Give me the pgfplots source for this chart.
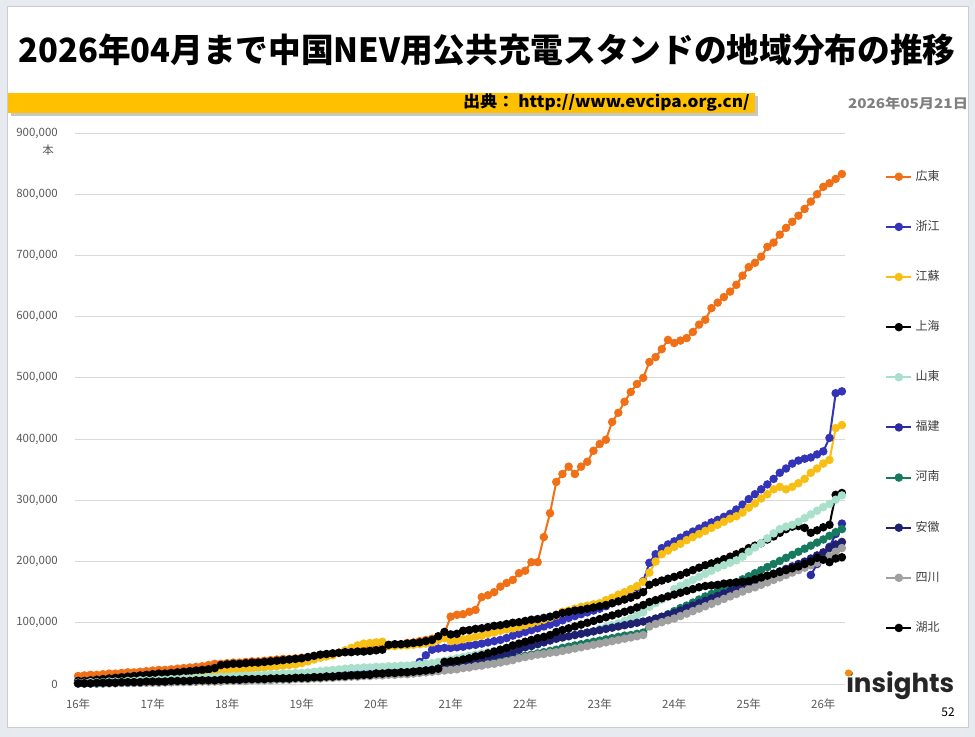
\documentclass[border=0pt]{standalone}
\usepackage{fontspec}
\usepackage{graphicx}
\usepackage{pgfplots}
\usepackage{pgfplotstable}
\pgfplotsset{compat=1.18}
\setmainfont{Noto Sans CJK JP}
\newfontfamily\logofont{Poppins}

\definecolor{pagebg}{RGB}{231,235,240}
\definecolor{panelline}{RGB}{200,205,212}
\definecolor{banner}{RGB}{255,192,0}
\definecolor{dategray}{RGB}{128,128,128}
\definecolor{tick}{RGB}{89,89,89}
\definecolor{gridgray}{RGB}{217,217,217}
\definecolor{legtext}{RGB}{64,64,64}
\definecolor{logo}{RGB}{38,38,38}
\definecolor{logoorange}{RGB}{240,140,20}
\definecolor{gd}{RGB}{240,112,24}
\definecolor{zj}{RGB}{52,52,184}
\definecolor{js}{RGB}{247,190,20}
\definecolor{sh}{RGB}{0,0,0}
\definecolor{sd}{RGB}{168,224,204}
\definecolor{fj}{RGB}{44,44,160}
\definecolor{hn}{RGB}{22,122,94}
\definecolor{ah}{RGB}{32,32,112}
\definecolor{sc}{RGB}{160,160,160}
\definecolor{hb}{RGB}{0,0,0}

% monthly public chargers, thousand units (i = months since 2016-01)
\pgfplotstableread{
i GD ZJ JS SH SD HN AH SC HB
0 13 2 3 5 2 1 1 1 1
1 14 2 3 5 2 1 1 1 1
2 15 3 4 6 3 1 1 1 1
3 15 3 4 7 3 1 1 1 2
4 16 3 5 8 3 2 1 1 2
5 17 4 5 9 4 2 2 1 2
6 17 4 6 10 4 2 2 1 2
7 18 4 6 11 4 2 2 2 3
8 19 5 7 12 5 2 2 2 3
9 19 5 7 13 5 3 2 2 3
10 20 5 8 14 6 3 2 2 3
11 21 6 8 15 6 3 3 2 4
12 22 6 9 16 6 3 3 2 4
13 23 6 10 17 7 3 3 2 4
14 23 7 11 17 7 4 3 3 4
15 24 7 12 18 8 4 3 3 5
16 25 7 13 19 8 4 4 3 5
17 26 8 14 20 9 4 4 3 5
18 27 8 15 21 9 5 4 3 5
19 28 8 16 22 10 5 4 4 6
20 29 9 17 23 10 5 5 4 6
21 31 9 18 24 11 5 5 4 6
22 33 10 19 26 11 6 5 4 6
23 33 10 20 31 12 6 5 4 7
24 34 11 21 32 12 6 6 5 7
25 35 11 22 33 13 6 6 5 7
26 35 12 23 33 13 7 6 5 7
27 36 12 24 34 14 7 7 5 8
28 37 12 25 35 14 7 7 6 8
29 37 13 26 35 15 8 7 6 8
30 38 13 27 36 15 8 8 6 8
31 39 14 28 37 16 8 8 6 9
32 40 14 29 38 16 9 8 7 9
33 41 15 30 39 17 9 9 7 9
34 41 15 31 40 17 9 9 7 9
35 42 16 32 41 18 10 9 8 10
36 43 17 34 42 18 10 10 8 10
37 44 17 37 44 19 10 10 8 10
38 45 18 40 46 20 11 11 9 11
39 47 19 43 48 21 11 11 9 11
40 48 20 45 49 22 12 12 10 12
41 50 21 47 50 23 12 12 10 12
42 51 22 51 51 24 13 13 11 13
43 52 23 55 52 25 13 14 11 13
44 54 23 59 52 26 14 14 12 14
45 55 24 63 53 26 14 15 12 14
46 57 24 66 53 27 15 15 13 15
47 59 25 67 54 27 15 16 13 15
48 60 25 68 55 28 16 17 14 17
49 61 26 69 56 28 16 17 14 17
50 63 26 62 64 29 17 18 15 18
51 64 27 62 65 29 17 18 15 18
52 65 27 63 65 30 18 19 16 19
53 67 28 63 66 30 18 19 16 19
54 68 30 64 67 31 19 20 17 20
55 70 36 65 68 32 20 21 18 21
56 72 47 66 70 33 21 22 19 22
57 74 56 68 72 34 22 23 20 23
58 77 58 72 78 36 24 25 21 25
59 83 59 75 85 38 26 30 22 36
60 110 59 70 81 40 28 32 23 37
61 113 60 71 82 42 29 34 24 38
62 114 61 73 87 44 30 36 26 40
63 118 63 75 88 46 31 38 27 42
64 121 64 77 90 48 33 40 29 45
65 142 66 79 91 50 34 42 30 47
66 145 68 82 93 52 35 44 32 50
67 150 70 84 95 54 37 46 33 53
68 159 72 87 96 56 38 48 35 56
69 165 75 89 98 58 40 50 37 59
70 170 79 91 100 60 42 52 39 63
71 181 82 93 101 62 44 56 42 66
72 185 85 96 103 64 46 60 44 69
73 199 88 99 105 66 48 62 46 72
74 199 91 102 106 68 50 65 48 75
75 240 94 105 108 70 52 68 49 77
76 279 97 108 110 72 54 71 51 80
77 330 100 112 113 74 56 74 52 85
78 343 104 118 116 76 59 76 54 88
79 355 108 120 118 78 61 78 56 91
80 343 111 123 120 80 63 80 58 94
81 355 114 126 121 82 65 82 60 97
82 363 117 128 123 84 67 84 62 100
83 381 120 130 125 86 69 86 64 103
84 392 123 132 127 90 71 88 66 106
85 399 127 137 129 93 73 90 68 109
86 428 132 141 132 96 75 92 70 112
87 443 137 146 135 99 77 94 72 115
88 461 143 150 138 103 79 96 74 118
89 477 148 155 141 107 80 98 76 121
90 490 158 160 145 112 82 100 78 125
91 500 168 167 150 117 84 102 80 129
92 526 198 182 162 126 100 104 94 134
93 534 212 200 166 132 104 107 98 137
94 547 222 212 169 138 109 110 101 140
95 562 228 218 172 144 114 113 104 143
96 557 233 224 175 155 119 116 107 146
97 561 239 229 178 160 124 120 111 149
98 565 244 235 182 165 128 124 115 152
99 575 249 240 186 170 133 128 119 155
100 587 254 245 190 175 138 132 123 158
101 595 259 250 194 180 143 136 127 160
102 614 264 255 197 185 147 140 131 161
103 623 268 260 200 190 152 144 135 162
104 632 273 265 204 194 157 148 139 164
105 641 278 270 208 198 162 152 143 165
106 652 285 274 212 202 166 156 147 166
107 667 293 280 216 208 171 160 151 167
108 681 302 288 222 216 176 164 155 168
109 688 310 295 226 223 181 168 158 171
110 698 318 303 230 230 186 172 162 174
111 714 326 310 236 238 191 176 166 177
112 721 335 318 241 246 196 180 170 180
113 734 345 322 247 253 201 184 174 183
114 745 352 318 253 257 206 188 178 186
115 755 360 322 257 260 211 192 182 189
116 765 365 328 258 265 216 196 186 192
117 776 368 335 255 271 221 200 190 196
118 788 370 345 247 277 226 205 194 200
119 800 375 352 251 283 231 210 198 206
120 812 380 360 256 289 236 215 203 203
121 818 402 366 260 294 242 222 209 199
122 825 475 418 309 301 248 228 216 205
123 833 478 423 312 308 253 232 222 207
}\data

% Fujian is reported from 2025-11 on
\pgfplotstableread{
i FJ
118 178
119 196
120 210
121 224
122 245
123 262
}\fjdata

\begin{document}
\begin{tikzpicture}
\begin{scope}[x=0.75pt,y=-0.75pt]
  \fill[pagebg] (0,0) rectangle (975,737);
  \fill[white] (7,7) rectangle (968,727);
  \draw[panelline, line width=0.75pt] (7,7) rectangle (968,727);
  % title
  \node[inner sep=0pt] at (487,50) {\resizebox{702.75pt}{\height}{\fontsize{25pt}{26pt}\selectfont\bfseries 2026年04月まで中国NEV用公共充電スタンドの地域分布の推移}};
  % source banner
  \fill[black!22] (11,96) rectangle (758,116);
  \fill[banner] (8,93) rectangle (755,113);
  \node[anchor=east, inner sep=0pt] at (750,103) {\resizebox{215pt}{\height}{\fontsize{12pt}{13pt}\selectfont\bfseries 出典： http://www.evcipa.org.cn/}};
  \node[inner sep=0pt, text=dategray] at (908,103) {\resizebox{90pt}{\height}{\fontsize{10pt}{11pt}\selectfont\bfseries 2026年05月21日}};
  % unit, page number, logo
  \node[text=tick, inner sep=0pt] at (48,150) {\fontsize{8.6pt}{9pt}\selectfont 本};
  \node[inner sep=0pt] at (948,712) {\fontsize{9pt}{10pt}\selectfont 52};
  \node[anchor=base west, inner sep=0pt, text=logo] at (846,692) {\resizebox{81pt}{!}{\logofont\bfseries insights}};
  \fill[logoorange] (848.5,673) circle[radius=2.7pt];
\end{scope}

\begin{axis}[
  at={(56.25pt,-513pt)}, anchor=south west,
  scale only axis, width=577.5pt, height=413.25pt,
  xmin=-0.5, xmax=123.5, ymin=0, ymax=900000,
  clip=false,
  axis line style={draw=none},
  major tick length=0pt,
  scaled y ticks=false,
  xtick={0,12,...,120},
  xticklabels={16年,17年,18年,19年,20年,21年,22年,23年,24年,25年,26年},
  ytick={0,100000,...,900000},
  yticklabels={0,{100,000},{200,000},{300,000},{400,000},{500,000},{600,000},{700,000},{800,000},{900,000}},
  ymajorgrids, grid style={gridgray, line width=0.75pt},
  tick label style={font=\fontsize{8.6pt}{10pt}\selectfont, text=tick},
  xticklabel style={anchor=center, yshift=-15pt},
  yticklabel style={anchor=east, inner sep=0pt, xshift=-12.75pt},
  every axis plot/.append style={line width=1.5pt, mark=*, mark size=2.4pt},
  legend image code/.code={\draw[mark repeat=2,mark phase=2,#1] plot coordinates {(0pt,0pt) (9.4pt,0pt) (18.75pt,0pt)};},
  legend style={at={(axis description cs:1.052,0.932)}, anchor=north west,
    draw=none, fill=none, inner sep=0pt, row sep=28.6pt,
    font=\fontsize{9pt}{10pt}\selectfont, text=legtext,
    nodes={inner sep=0pt, text height=7pt, text depth=2pt},
    /tikz/every odd column/.append style={column sep=2.5pt}},
  legend cell align=left,
]
\addplot[color=gd] table[x=i, y expr=\thisrow{GD}*1000] {\data};
\addlegendentry{広東}
\addplot[color=zj] table[x=i, y expr=\thisrow{ZJ}*1000] {\data};
\addlegendentry{浙江}
\addplot[color=js] table[x=i, y expr=\thisrow{JS}*1000] {\data};
\addlegendentry{江蘇}
\addplot[color=sh] table[x=i, y expr=\thisrow{SH}*1000] {\data};
\addlegendentry{上海}
\addplot[color=sd] table[x=i, y expr=\thisrow{SD}*1000] {\data};
\addlegendentry{山東}
\addplot[color=fj] table[x=i, y expr=\thisrow{FJ}*1000] {\fjdata};
\addlegendentry{福建}
\addplot[color=hn] table[x=i, y expr=\thisrow{HN}*1000] {\data};
\addlegendentry{河南}
\addplot[color=ah] table[x=i, y expr=\thisrow{AH}*1000] {\data};
\addlegendentry{安徽}
\addplot[color=sc] table[x=i, y expr=\thisrow{SC}*1000] {\data};
\addlegendentry{四川}
\addplot[color=hb] table[x=i, y expr=\thisrow{HB}*1000] {\data};
\addlegendentry{湖北}
\end{axis}
\pgfresetboundingbox
\path[use as bounding box] (0,0) rectangle (731.25pt,-552.75pt);
\end{tikzpicture}
\end{document}
